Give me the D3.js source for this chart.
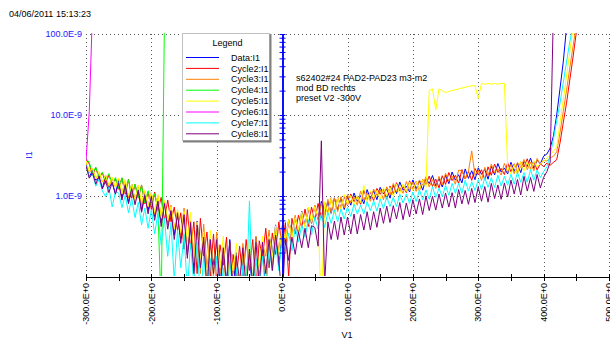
<!DOCTYPE html>
<html>
<head>
<meta charset="utf-8">
<script src="https://cdn.jsdelivr.net/npm/d3@7"></script>
<style>
  body { margin: 0; background: #fff; }
  svg text { font-family: "Liberation Sans", Arial, sans-serif; font-size: 9px; }
</style>
</head>
<body>
<svg id="chart" width="610" height="339"></svg>
<script>
// sweep grid: V1 from -300 V in 5 V steps
const volts = d3.range(-300, 455, 5);

// I1 readings in nA, one entry per volts step
const dataI1 = [
  2.5, 1.7, 2.1, 1.56, 1.69, 1.25, 1.74, 1.26, 1.47, 1.08,
  1.55, 0.96, 1.32, 0.83, 1.38, 0.86, 1.16, 0.66, 1.11, 0.66,
  1.03, 0.56, 0.86, 0.47, 0.85, 0.46, 0.66, 0.33, 0.6, 0.3,
  0.62, 0.19, 0.42, 0.12, 0.49, 0.18, 0.28, 0.07, 0.29, 0.14,
  0.29, 0.08, 0.18, 0.09, 0.29, 0.07, 0.2, 0.04, 0.18, 0.11,
  0.2, 0.06, 0.31, 0.12, 0.22, 0.07, 0.33, 0.19, 0.44, 0.13,
  0.41, 0.25, 0.51, 0.32, 0.54, 0.35, 0.65, 0.43, 0.7, 0.46,
  0.76, 0.51, 0.86, 0.58, 0.86, 0.61, 0.95, 0.67, 0.95, 0.68,
  0.99, 0.77, 1.09, 0.86, 1.01, 0.8, 1.2, 0.92, 1.16, 0.9,
  1.28, 1.06, 1.23, 0.94, 1.36, 1.07, 1.49, 1.18, 1.33, 1.12,
  1.58, 1.22, 1.54, 1.18, 1.64, 1.42, 1.79, 1.33, 1.65, 1.29,
  1.81, 1.42, 1.98, 1.57, 1.83, 1.45, 2.16, 1.65, 2.05, 1.59,
  2.23, 1.85, 2.14, 1.61, 2.33, 1.82, 2.52, 1.98, 2.22, 1.87,
  2.61, 2.02, 2.53, 1.94, 2.69, 2.32, 2.93, 2.19, 2.76, 2.5,
  3.1, 3.3, 3.9, 5.5, 10, 21, 45, 120
];
const cycle2I1 = [
  2.84, 2.49, 1.8, 2.23, 1.66, 1.94, 1.43, 1.82, 1.41, 1.62,
  1.21, 1.67, 1.05, 1.61, 0.94, 1.39, 0.94, 1.37, 0.8, 1.12,
  0.68, 1.12, 0.66, 0.96, 0.5, 0.89, 0.48, 0.73, 0.38, 0.62,
  0.22, 0.68, 0.22, 0.48, 0.11, 0.53, 0.18, 0.36, 0.1, 0.34,
  0.08, 0.25, 0.14, 0.31, 0.05, 0.19, 0.1, 0.24, 0.09, 0.29,
  0.12, 0.29, 0.07, 0.28, 0.17, 0.4, 0.13, 0.35, 0.19, 0.48,
  0.23, 0.47, 0.1, 0.53, 0.34, 0.58, 0.41, 0.69, 0.42, 0.73,
  0.5, 0.81, 0.54, 0.84, 0.61, 0.95, 0.62, 0.96, 0.71, 0.99,
  0.76, 1.06, 0.85, 0.99, 0.79, 1.18, 0.9, 1.12, 0.88, 1.24,
  1.05, 1.21, 0.91, 1.33, 1.05, 1.46, 1.15, 1.31, 1.1, 1.54,
  1.2, 1.51, 1.16, 1.6, 1.39, 1.76, 1.31, 1.62, 1.26, 1.78,
  1.39, 1.95, 1.55, 1.8, 1.43, 2.12, 1.62, 2.01, 1.56, 2.19,
  1.82, 2.11, 1.58, 2.29, 1.8, 2.48, 1.95, 2.19, 1.84, 2.57,
  1.98, 2.5, 1.91, 2.64, 2.28, 2.88, 2.14, 2.67, 2.1, 2.5,
  2.3, 2.55, 2.4, 2.6, 2.8, 4.5, 8, 14, 27, 52, 105
];
const cycle3I1 = [
  2.57, 1.94, 2.18, 1.63, 1.93, 1.49, 1.82, 1.31, 1.64, 1.29,
  1.62, 1.07, 1.56, 0.94, 1.4, 0.88, 1.34, 0.76, 1.14, 0.74,
  1.1, 0.59, 1.01, 0.55, 0.85, 0.44, 0.77, 0.4, 0.65, 0.31,
  0.71, 0.19, 0.49, 0.19, 0.46, 0.11, 0.45, 0.13, 0.27, 0.1,
  0.36, 0.11, 0.22, 0.06, 0.26, 0.11, 0.18, 0.06, 0.26, 0.09,
  0.22, 0.08, 0.32, 0.11, 0.26, 0.18, 0.38, 0.13, 0.42, 0.21,
  0.43, 0.26, 0.48, 0.34, 0.58, 0.34, 0.61, 0.42, 0.71, 0.45,
  0.77, 0.53, 0.81, 0.54, 0.91, 0.62, 0.94, 0.64, 0.98, 0.71,
  1.04, 0.83, 0.97, 0.77, 1.15, 0.88, 1.1, 0.86, 1.22, 1.02,
  1.19, 0.9, 1.3, 1.03, 1.43, 1.13, 1.28, 1.08, 1.51, 1.17,
  1.49, 1.14, 1.58, 1.36, 1.73, 1.29, 1.59, 1.24, 1.75, 1.37,
  1.91, 1.52, 1.76, 1.4, 2.09, 2.04, 1.62, 2.01, 3.6, 1.8,
  2.07, 1.56, 2.26, 1.77, 2.48, 1.93, 2.16, 1.81, 2.53, 1.96,
  2.45, 1.88, 2.6, 2.25, 2.83, 2.11, 2.61, 2.04, 2.91, 2.45,
  2.75, 2.7, 2.95, 3.1, 3.5, 6, 11, 20, 38, 70, 130
];
const cycle4I1 = [
  2.92, 2.6, 1.9, 2.28, 1.66, 1.96, 1.54, 1.89, 1.37, 1.69,
  1.24, 1.68, 1.11, 1.59, 0.99, 1.4, 0.95, 1.35, 0.82, 1.16,
  0.76, 1.07, 0.71, 0.04, 150
];
const cycle5I1 = [
  2.75, 2.01, 2.19, 1.63, 2.02, 1.51, 1.8, 1.36, 1.71, 1.29,
  1.68, 1.06, 1.6, 1.0, 1.4, 0.87, 1.37, 0.84, 1.18, 0.74,
  1.1, 0.63, 1.04, 0.53, 0.88, 0.5, 0.74, 0.39, 0.69, 0.35,
  0.65, 0.27, 0.63, 0.15, 0.48, 0.17, 0.36, 0.08, 0.38, 0.11,
  0.29, 0.13, 0.32, 0.07, 0.21, 0.12, 0.26, 0.05, 0.22, 0.1,
  0.29, 0.09, 0.27, 0.12, 0.32, 0.09, 0.32, 0.18, 0.43, 0.18,
  0.41, 0.28, 0.51, 0.3, 0.54, 0.38, 0.64, 0.41, 0.73, 0.48,
  0.74, 0.54, 0.04, 0.85, 0.58, 0.95, 0.61, 0.96, 0.68, 1.04,
  0.78, 1.01, 0.77, 1.01, 0.83, 1.35, 0.84, 1.16, 0.93, 1.17,
  0.91, 1.27, 1.01, 1.28, 0.99, 1.41, 1.07, 1.41, 1.14, 1.49,
  1.16, 1.5, 1.18, 1.59, 1.28, 20, 21, 11.5, 21, 20,
  19, 19.5, 20, 20.5, 21, 21.5, 22, 22.5, 23, 23,
  16, 24.5, 24, 24.5, 24, 24.5, 24, 24.5, 24.5, 2.3,
  1.86, 2.45, 1.85, 2.64, 2.05, 2.66, 2.07, 2.72, 2.29, 2.5,
  2.7, 2.9, 3.2, 3.6, 4, 8, 15, 30, 60, 120
];
const cycle6I1 = [2.7, 11, 200];
const cycle7I1 = [
  2.43, 1.7, 1.85, 1.32, 1.61, 1.16, 0.98, 1.28, 0.73, 1.13,
  1.09, 0.72, 1.02, 0.62, 0.93, 0.54, 0.84, 0.44, 0.71, 0.4,
  0.68, 0.34, 0.61, 0.25, 0.53, 0.18, 0.47, 0.09, 0.38, 0.13,
  0.34, 0.07, 0.26, 0.08, 0.27, 0.05, 0.18, 0.07, 0.17, 0.05,
  0.18, 0.05, 0.13, 0.04, 0.16, 0.06, 0.13, 0.03, 0.14, 0.06,
  0.87, 0.05, 0.17, 0.07, 0.18, 0.06, 0.24, 0.12, 0.27, 0.12,
  0.31, 0.2, 0.35, 0.21, 0.41, 0.27, 0.44, 0.31, 0.51, 0.33,
  0.55, 0.39, 0.6, 0.41, 0.63, 0.46, 0.67, 0.48, 0.69, 0.52,
  0.73, 0.56, 0.79, 0.6, 0.77, 0.6, 0.85, 0.66, 0.87, 0.65,
  0.92, 0.7, 0.98, 0.74, 0.96, 0.74, 1.05, 0.82, 1.06, 0.81,
  1.12, 0.85, 1.19, 0.9, 1.19, 0.91, 1.3, 0.96, 1.25, 0.98,
  1.35, 1.02, 1.43, 1.08, 1.43, 1.08, 1.56, 1.15, 1.5, 1.17,
  1.59, 1.2, 1.69, 1.28, 1.68, 1.27, 1.81, 1.33, 1.75, 1.36,
  1.85, 1.4, 1.96, 1.48, 1.95, 1.48, 2.12, 1.57, 2.09, 1.69,
  2.0, 2.3, 3.2, 5, 8.5, 14, 25, 45, 80, 130
];
const cycle8I1 = [
  2.38, 1.66, 1.93, 1.4, 1.77, 1.22, 1.53, 1.1, 1.46, 1.05,
  1.43, 0.89, 1.38, 0.8, 1.23, 0.78, 1.18, 0.63, 1.01, 0.6,
  0.99, 0.5, 0.86, 0.42, 0.81, 0.39, 0.66, 0.29, 0.62, 0.26,
  0.59, 0.17, 0.47, 0.11, 0.44, 0.13, 0.31, 0.07, 0.29, 0.11,
  0.29, 0.07, 0.23, 0.08, 0.27, 0.05, 0.18, 0.09, 0.23, 0.07,
  0.22, 0.08, 0.27, 0.08, 0.27, 0.11, 0.29, 0.12, 0.33, 0.16,
  0.05, 0.29, 0.16, 0.31, 0.19, 0.36, 0.23, 0.4, 0.23, 0.43,
  0.41, 0.24, 4.8, 0.08, 0.48, 0.29, 0.49, 0.29, 0.55, 0.33,
  0.55, 0.34, 0.6, 0.34, 0.59, 0.38, 0.64, 0.38, 0.64, 0.41,
  0.71, 0.46, 0.75, 0.47, 0.76, 0.52, 0.83, 0.51, 0.82, 0.55,
  0.9, 0.6, 0.92, 0.59, 1.0, 0.66, 0.99, 0.67, 1.06, 0.71,
  1.09, 0.73, 1.1, 0.71, 1.2, 0.8, 1.17, 0.79, 1.24, 0.83,
  1.29, 0.86, 1.31, 0.84, 1.43, 0.93, 1.37, 0.91, 1.45, 0.97,
  1.57, 1.06, 1.6, 1.03, 1.75, 1.15, 1.69, 1.14, 1.84, 1.26,
  1.7, 2.0, 2.6, 200
];

const seriesNames = ["Data:I1", "Cycle2:I1", "Cycle3:I1", "Cycle4:I1", "Cycle5:I1", "Cycle6:I1", "Cycle7:I1", "Cycle8:I1"];
const seriesColors = ["#0000ff", "#ff0000", "#ff8000", "#00ff00", "#ffff00", "#ff00ff", "#00ffff", "#800080"];
const seriesValues = [dataI1, cycle2I1, cycle3I1, cycle4I1, cycle5I1, cycle6I1, cycle7I1, cycle8I1];

const xTicks = [-300, -200, -100, 0, 100, 200, 300, 400, 500];
const xMinorTicks = d3.range(-300, 501, 50);
const yTicks = [1e-9, 1e-8, 1e-7];
const yTickLabels = ["1.0E-9", "10.0E-9", "100.0E-9"];
const timeStamp = "04/06/2011 15:13:23";
const noteLines = ["s62402#24 PAD2-PAD23 m3-m2", "mod BD rechts", "preset V2 -300V"];

const svg = d3.select("#chart");

const x = d3.scaleLinear().domain([-300, 500]).range([86, 609]);
const y = d3.scaleLog().domain([1e-10, 1e-7]).range([277, 34]);

svg.append("text").attr("x", 9).attr("y", 17).attr("fill", "#000").text(timeStamp);

// dotted grid
const grid = svg.append("g").attr("stroke", "#555").attr("stroke-dasharray", "1,3");
grid.selectAll(".gx").data(xTicks).join("line")
    .attr("x1", d => Math.round(x(d)) + 0.5).attr("x2", d => Math.round(x(d)) + 0.5)
    .attr("y1", 34).attr("y2", 277);
grid.selectAll(".gy").data(yTicks).join("line")
    .attr("x1", 86).attr("x2", 609)
    .attr("y1", d => Math.round(y(d)) + 0.5).attr("y2", d => Math.round(y(d)) + 0.5);

svg.append("clipPath").attr("id", "plotclip")
   .append("rect").attr("x", 86).attr("y", 33).attr("width", 524).attr("height", 243);

const line = d3.line()
    .defined(d => d[0] !== undefined)
    .x(d => x(d[0]))
    .y(d => y(d[1] * 1e-9));

const series = seriesNames.map((name, k) => ({
  name: name,
  color: seriesColors[k],
  points: seriesValues[k].map((v, i) => [volts[i], v])
}));

svg.append("g").attr("clip-path", "url(#plotclip)")
   .selectAll("path").data(series).join("path")
   .attr("d", d => line(d.points))
   .attr("fill", "none")
   .attr("stroke", d => d.color)
   .attr("stroke-width", 1);

// blue I1 axis sitting at V1 = 0
const zeroAxis = svg.append("g")
    .attr("transform", "translate(" + (Math.round(x(0)) + 0.5) + ",0)")
    .attr("color", "#0000ff");
zeroAxis.call(d3.axisRight(y).tickSize(3).tickSizeOuter(0).tickFormat(""));
zeroAxis.call(g => g.append("g").call(d3.axisLeft(y).tickSize(3).tickSizeOuter(0).tickFormat("")));
zeroAxis.selectAll(".domain").attr("stroke-width", 1.5);

// x axis at the bottom
svg.append("line").attr("x1", 86).attr("x2", 609).attr("y1", 277.5).attr("y2", 277.5).attr("stroke", "#000");
svg.selectAll(".xt").data(xMinorTicks).join("line")
   .attr("x1", d => Math.round(x(d)) + 0.5).attr("x2", d => Math.round(x(d)) + 0.5)
   .attr("y1", 274).attr("y2", 281).attr("stroke", "#000");

svg.selectAll(".xlab").data(xTicks).join("text")
   .attr("transform", d => "translate(" + x(d) + ",283) rotate(-90)")
   .attr("text-anchor", "end")
   .attr("dy", "0.35em")
   .text(d => d + ".0E+0");

svg.selectAll(".ylab").data(yTicks).join("text")
   .attr("x", 82).attr("y", d => y(d))
   .attr("dy", "0.35em")
   .attr("text-anchor", "end")
   .attr("fill", "#2020ff")
   .text((d, i) => yTickLabels[i]);

svg.append("text").attr("x", 347).attr("y", 338).attr("text-anchor", "middle").text("V1");
svg.append("text").attr("transform", "translate(32,155) rotate(-90)")
   .attr("text-anchor", "middle").attr("fill", "#2020ff").text("I1");

// annotation
svg.selectAll(".note").data(noteLines).join("text")
   .attr("x", 296).attr("y", (d, i) => 80.5 + i * 10.2)
   .text(d => d);

// legend box
const legend = svg.append("g");
legend.append("rect").attr("x", 182.5).attr("y", 33.5).attr("width", 87).attr("height", 107)
      .attr("fill", "#fff").attr("stroke", "#c0c0c0");
legend.append("path").attr("d", "M270.5,34V141.5H183").attr("fill", "none").attr("stroke", "#808080").attr("stroke-width", 2);
legend.append("text").attr("x", 227.5).attr("y", 46).attr("text-anchor", "middle").text("Legend");
const items = legend.selectAll(".item").data(series).join("g")
    .attr("transform", (d, i) => "translate(0," + (57.5 + i * 10.9) + ")");
items.append("line").attr("x1", 186).attr("x2", 219).attr("stroke", d => d.color);
items.append("text").attr("x", 231).attr("dy", "0.35em").text(d => d.name);
</script>
</body>
</html>
